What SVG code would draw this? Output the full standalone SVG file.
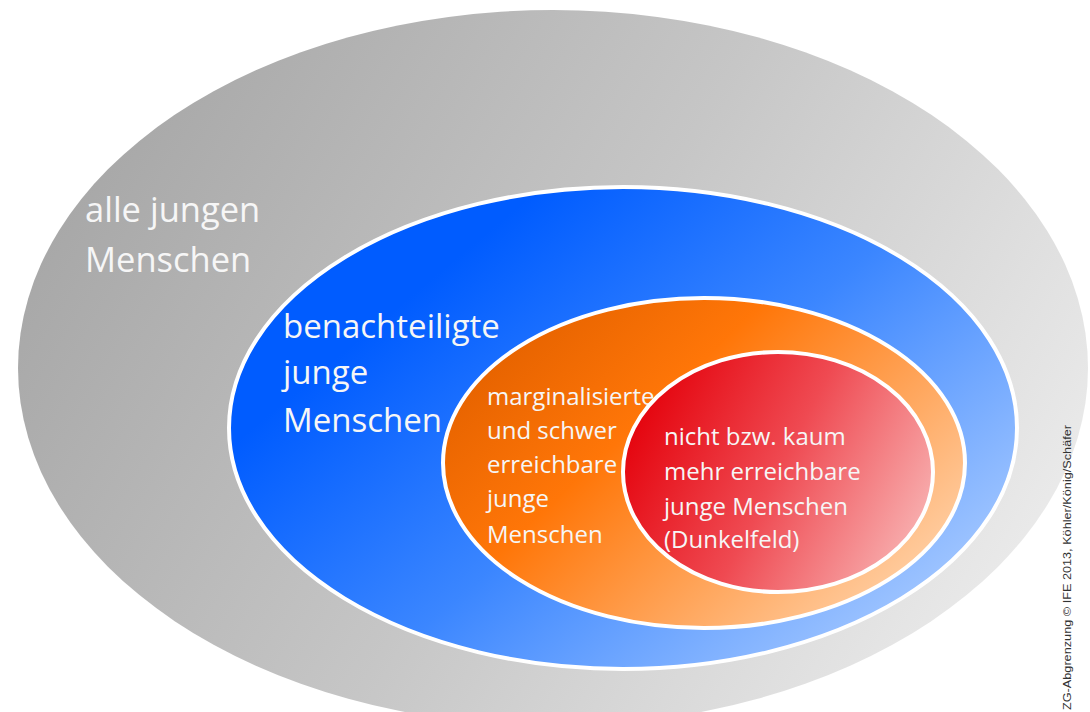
<svg xmlns="http://www.w3.org/2000/svg" width="1090" height="712" viewBox="0 0 1090 712">
<defs>
<linearGradient id="gGray" x1="0" y1="0.3" x2="1" y2="0.7">
<stop offset="0" stop-color="#a6a6a6"/>
<stop offset="0.5" stop-color="#c6c6c6"/>
<stop offset="1" stop-color="#ececec"/>
</linearGradient>
<linearGradient id="gBlue" x1="0.25" y1="0.2" x2="1" y2="0.75">
<stop offset="0" stop-color="#005cff"/>
<stop offset="0.45" stop-color="#3b86ff"/>
<stop offset="1" stop-color="#a6c9ff"/>
</linearGradient>
<linearGradient id="gOrange" x1="0.1" y1="0.2" x2="1" y2="0.8">
<stop offset="0" stop-color="#e86400"/>
<stop offset="0.3" stop-color="#ff7608"/>
<stop offset="1" stop-color="#ffd4ad"/>
</linearGradient>
<linearGradient id="gRed" x1="0" y1="0.3" x2="1" y2="0.7">
<stop offset="0" stop-color="#e4000a"/>
<stop offset="0.5" stop-color="#ef4a52"/>
<stop offset="1" stop-color="#f8b2b2"/>
</linearGradient>
</defs>
<style>
.ring{stroke:#ffffff;stroke-width:4}
.lbl{font-family:"Open Sans","Liberation Sans",sans-serif;fill:#f6f6f6}
.big{font-size:34.5px}
.mid{font-size:33px}
.sm{font-size:24px}
.credit{font-family:"Liberation Sans","DejaVu Sans",sans-serif;font-size:10.5px;fill:#333333}
</style>
<rect width="1090" height="712" fill="#ffffff"/>
<g id="all">
<ellipse cx="553" cy="368" rx="535" ry="358" fill="url(#gGray)"/>
<text class="lbl big" x="85" y="222">alle jungen</text>
<text class="lbl big" x="85" y="272">Menschen</text>
</g>
<g id="benachteiligt">
<ellipse class="ring" cx="623" cy="428" rx="394" ry="241" fill="url(#gBlue)"/>
<text class="lbl mid" x="283" y="338">benachteiligte</text>
<text class="lbl mid" x="283" y="384">junge</text>
<text class="lbl mid" x="283" y="432">Menschen</text>
</g>
<g id="marginalisiert">
<ellipse class="ring" cx="704" cy="463" rx="261" ry="165" fill="url(#gOrange)"/>
<text class="lbl sm" x="487" y="405">marginalisierte</text>
<text class="lbl sm" x="487" y="439">und schwer</text>
<text class="lbl sm" x="487" y="473">erreichbare</text>
<text class="lbl sm" x="487" y="507">junge</text>
<text class="lbl sm" x="487" y="543">Menschen</text>
</g>
<g id="dunkelfeld">
<ellipse class="ring" cx="778" cy="472" rx="155" ry="120" fill="url(#gRed)"/>
<text class="lbl sm" x="664" y="445">nicht bzw. kaum</text>
<text class="lbl sm" x="664" y="480">mehr erreichbare</text>
<text class="lbl sm" x="664" y="515">junge Menschen</text>
<text class="lbl sm" x="664" y="548">(Dunkelfeld)</text>
</g>
<g id="connectors"></g>
<text class="credit" transform="translate(1071,710) rotate(-90)" textLength="285" lengthAdjust="spacingAndGlyphs">ZG-Abgrenzung © IFE 2013, Köhler/König/Schäfer</text>
</svg>
